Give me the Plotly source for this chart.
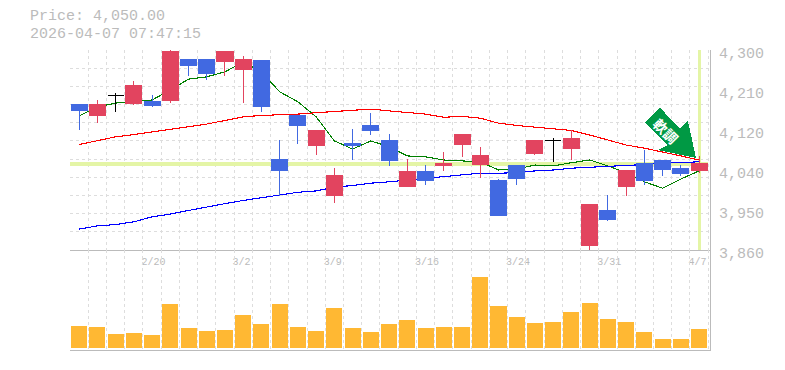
import plotly.graph_objects as go

dates = ["2/16","2/17","2/18","2/19","2/20","2/24","2/25","2/26","2/27","3/2","3/3","3/4","3/5","3/6","3/9",
         "3/10","3/11","3/12","3/13","3/16","3/17","3/18","3/19","3/23","3/24","3/25","3/26","3/27","3/30","3/31",
         "4/1","4/2","4/3","4/6","4/7"]
labelled_dates = ["2/20","3/2","3/9","3/16","3/24","3/31","4/7"]

opens  = [4181,4155,4200,4183,4186,4188,4280,4280,4274,4258,4276,4060,4157,4089,3979,4095,4135,4102,3999,4032,4045,4093,4049,4012,4047,4073,4101,4084,3869,3946,3999,4051,4056,4040,4034]
highs  = [4181,4190,4205,4232,4201,4300,4280,4280,4296,4287,4276,4102,4157,4122,4040,4126,4161,4115,4060,4047,4076,4115,4087,4016,4047,4102,4106,4124,3961,3981,4036,4080,4056,4047,4067]
lows   = [4124,4140,4164,4180,4175,4183,4243,4234,4243,4183,4164,3979,4093,4069,3963,4058,4113,4045,3999,4003,4034,4065,4018,3935,4003,4069,4054,4058,3858,3924,3979,4003,4023,4023,4029]
closes = [4168,4181,4200,4221,4179,4296,4265,4249,4296,4280,4175,4034,4133,4122,4025,4089,4124,4058,4032,4014,4051,4115,4067,3935,4018,4102,4101,4106,3961,3928,4036,4014,4038,4029,4050]

ma_short = [4155,4175,4183,4188,4190,4212,4236,4241,4252,4274,4252,4208,4186,4153,4100,4082,4100,4087,4067,4065,4058,4056,4054,4036,4038,4047,4045,4052,4058,4045,4030,4010,3996,4016,4034]
ma_mid   = [4092,4101,4109,4114,4120,4126,4131,4137,4145,4153,4156,4157,4159,4162,4165,4167,4170,4166,4162,4159,4152,4154,4150,4139,4134,4130,4126,4123,4113,4102,4091,4084,4076,4067,4058]
ma_long  = [3906,3913,3916,3922,3933,3939,3947,3955,3962,3969,3975,3981,3987,3990,3998,4002,4007,4010,4014,4018,4021,4025,4029,4029,4030,4034,4036,4040,4042,4043,4045,4048,4051,4053,4054]

volumes = [22,21,14,15,13,44,20,17,18,33,24,44,21,17,40,20,16,24,28,20,21,21,71,42,31,25,26,36,45,29,26,16,9,9,19]

price_now = 4050
price_ticks = [4300,4212,4124,4036,3948,3860]
price_tick_text = ["4,300","4,210","4,120","4,040","3,950","3,860"]
price_grid = [3860,3900,3940,3980,4020,4060,4100,4140,4180,4220,4260,4300]

TXT = "#bbbbbb"
GRID = "#dddddd"
AXIS = "#bbbbbb"
FONT = "Liberation Mono"
UP = "#e2445f"
DOWN = "#4169e1"
HL = "#e4f5a6"
BADGE = "#009944"

x = list(range(len(dates)))
is_doji = [o == c for o, c in zip(opens, closes)]
idx_c = [i for i in x if not is_doji[i]]
idx_d = [i for i in x if is_doji[i]]

fig = go.Figure()
fig.add_trace(go.Scatter(x=[x[0]-0.5, x[-1]+0.5], y=[price_now, price_now], mode="lines",
                         line=dict(color=HL, width=4), hoverinfo="skip", xaxis="x", yaxis="y"))
fig.add_trace(go.Scatter(x=[x[-1], x[-1]], y=[3860, 4300], mode="lines",
                         line=dict(color=HL, width=3), hoverinfo="skip", xaxis="x", yaxis="y"))
for vals, col in ((ma_short, "#008000"), (ma_mid, "#ff0000"), (ma_long, "#0000ff")):
    fig.add_trace(go.Scatter(x=x, y=vals, mode="lines", line=dict(color=col, width=1.1),
                             xaxis="x", yaxis="y"))
fig.add_trace(go.Candlestick(
    x=[x[i] for i in idx_c],
    open=[opens[i] for i in idx_c], high=[highs[i] for i in idx_c],
    low=[lows[i] for i in idx_c], close=[closes[i] for i in idx_c],
    increasing=dict(line=dict(color=UP, width=1), fillcolor=UP),
    decreasing=dict(line=dict(color=DOWN, width=1), fillcolor=DOWN),
    whiskerwidth=0, xaxis="x3", yaxis="y3"))
fig.add_trace(go.Candlestick(
    x=[x[i] for i in idx_d],
    open=[opens[i] for i in idx_d], high=[highs[i] for i in idx_d],
    low=[lows[i] for i in idx_d], close=[closes[i] for i in idx_d],
    increasing=dict(line=dict(color="#000000", width=1), fillcolor="#000000"),
    decreasing=dict(line=dict(color="#000000", width=1), fillcolor="#000000"),
    whiskerwidth=0, xaxis="x3", yaxis="y3"))
fig.add_trace(go.Bar(x=x, y=volumes, marker=dict(color="#ffb833", line=dict(width=0)),
                     width=0.88, xaxis="x2", yaxis="y2"))

# Arrow badge in page pixels
W, H, L, T, R, B = 785, 370, 70, 50, 75, 20
PW, PH = W - L - R, H - T - B
def px(p):
    return (p[0] - L) / PW, 1 - (p[1] - T) / PH
arrow = [(660,108),(645,123),(668,145),(658,150),(696,158),(688,121),(680,128)]
path = "M " + " L ".join("%.4f,%.4f" % px(p) for p in arrow) + " Z"
shapes = [dict(type="path", xref="paper", yref="paper", path=path, fillcolor=BADGE, line=dict(width=0), layer="above")]

annos = []
for text, pos in (("Price: 4,050.00", (28, 17)), ("2026-04-07 07:47:15", (28, 34))):
    ax, ay = px(pos)
    annos.append(dict(text=text, x=ax, y=ay, xref="paper", yref="paper", xanchor="left", yanchor="middle",
                      showarrow=False, font=dict(family=FONT, size=15, color=TXT)))
ann_x, ann_y = px((666, 131))
annos.append(dict(text="<b>軟調</b>", x=ann_x, y=ann_y, xref="paper", yref="paper", textangle=45, showarrow=False,
                  xanchor="center", yanchor="middle",
                  font=dict(family="Noto Sans CJK JP", size=14, color="#ffffff")))

grid_x = [i - 0.5 for i in x] + [x[-1] + 0.5]
tick_text = [dates[i] if i < len(dates) and dates[i] in labelled_dates else "" for i in range(len(grid_x))]
X_RANGE = [-0.5, 34.6]
Y_RANGE = [3860, 4300]

common_x = dict(range=X_RANGE, showgrid=True, gridcolor=GRID, griddash="3px,3px", gridwidth=1,
                zeroline=False, tickmode="array", tickvals=grid_x, ticks="", fixedrange=True, automargin=False)

fig.update_layout(
    width=W, height=H, margin=dict(l=L, r=R, t=T, b=B), autosize=False,
    paper_bgcolor="#ffffff", plot_bgcolor="#ffffff", showlegend=False, boxgap=0.12, boxgroupgap=0,
    shapes=shapes, annotations=annos, bargap=0,
    xaxis=dict(common_x, domain=[0, 1], anchor="y", ticktext=tick_text, showticklabels=True,
               ticklabelposition="outside right",
               showline=True, linecolor=AXIS, linewidth=1, ticklabelstandoff=2, ticklabelshift=-2,
               tickfont=dict(family=FONT, size=10, color=TXT)),
    xaxis2=dict(common_x, domain=[0, 1], anchor="y2", showticklabels=False,
                showline=True, linecolor=AXIS, linewidth=1),
    xaxis3=dict(overlaying="x", range=X_RANGE, visible=False, anchor="y3", rangeslider=dict(visible=False), fixedrange=True, automargin=False),
    yaxis=dict(domain=[1/3, 1], range=Y_RANGE, side="right", tickmode="array", automargin=False,
               tickvals=price_ticks, ticktext=price_tick_text, showgrid=False, zeroline=False,
               ticks="", showline=True, linecolor=AXIS, linewidth=1, ticklabelstandoff=5, ticklabelshift=3,
               tickfont=dict(family=FONT, size=15, color=TXT), fixedrange=True,
               minor=dict(tickmode="array", tickvals=price_grid, showgrid=True, gridcolor=GRID, griddash="3px,3px", gridwidth=1, ticks="")),
    yaxis2=dict(domain=[0, 1/3], range=[-2, 98], side="right", showticklabels=False, showgrid=False, automargin=False,
                zeroline=False, ticks="", showline=True, linecolor=AXIS, linewidth=1, fixedrange=True),
    yaxis3=dict(overlaying="y", range=Y_RANGE, visible=False, anchor="x3", fixedrange=True, automargin=False),
)
post = ("document.body.style.margin='0';"
        "var s=document.createElement('style');"
        "s.textContent='.main-svg path{shape-rendering:crispEdges}';"
        "document.head.appendChild(s);")
fig.write_html("out.html", config=dict(displayModeBar=False), post_script=post)
